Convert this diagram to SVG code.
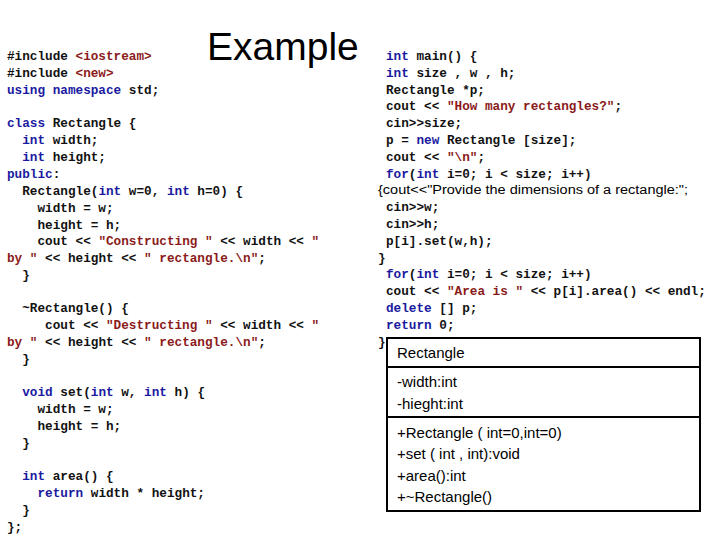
<svg xmlns="http://www.w3.org/2000/svg" width="720" height="540" viewBox="0 0 720 540">
<style>
.c{font-family:"Liberation Mono","DejaVu Sans Mono",monospace;font-size:12.7px;font-weight:bold;fill:#111;white-space:pre}
.k{fill:#1a1aa0}
.s{fill:#8b1a1a}
.u{font-family:"Liberation Sans",Arial,sans-serif;font-size:15px;fill:#000}
.b{fill:#fff;stroke:#000;stroke-width:2}
</style>
<rect width="720" height="540" fill="#fff"/>
<g id="title"><text x="207" y="60" font-family="'Liberation Sans',Arial,sans-serif" font-size="39" fill="#000">Example</text></g>
<g id="code-left">
<text class="c" x="7" y="60">#include <tspan class="s">&lt;iostream&gt;</tspan></text>
<text class="c" x="7" y="77">#include <tspan class="s">&lt;new&gt;</tspan></text>
<text class="c" x="7" y="94"><tspan class="k">using namespace</tspan> std;</text>
<text class="c" x="7" y="127"><tspan class="k">class</tspan> Rectangle {</text>
<text class="c" x="7" y="144">  <tspan class="k">int</tspan> width;</text>
<text class="c" x="7" y="161">  <tspan class="k">int</tspan> height;</text>
<text class="c" x="7" y="178"><tspan class="k">public</tspan>:</text>
<text class="c" x="7" y="195">  Rectangle(<tspan class="k">int</tspan> w=0, <tspan class="k">int</tspan> h=0) {</text>
<text class="c" x="7" y="212">    width = w;</text>
<text class="c" x="7" y="229">    height = h;</text>
<text class="c" x="7" y="245">    cout &lt;&lt; <tspan class="s">"Constructing "</tspan> &lt;&lt; width &lt;&lt; <tspan class="s">"</tspan></text>
<text class="c" x="7" y="262"><tspan class="s">by "</tspan> &lt;&lt; height &lt;&lt; <tspan class="s">" rectangle.\n"</tspan>;</text>
<text class="c" x="7" y="279">  }</text>
<text class="c" x="7" y="312">  ~Rectangle() {</text>
<text class="c" x="7" y="329">     cout &lt;&lt; <tspan class="s">"Destructing "</tspan> &lt;&lt; width &lt;&lt; <tspan class="s">"</tspan></text>
<text class="c" x="7" y="346"><tspan class="s">by "</tspan> &lt;&lt; height &lt;&lt; <tspan class="s">" rectangle.\n"</tspan>;</text>
<text class="c" x="7" y="363">  }</text>
<text class="c" x="7" y="396">  <tspan class="k">void</tspan> set(<tspan class="k">int</tspan> w, <tspan class="k">int</tspan> h) {</text>
<text class="c" x="7" y="413">    width = w;</text>
<text class="c" x="7" y="430">    height = h;</text>
<text class="c" x="7" y="447">  }</text>
<text class="c" x="7" y="480">  <tspan class="k">int</tspan> area() {</text>
<text class="c" x="7" y="497">    <tspan class="k">return</tspan> width * height;</text>
<text class="c" x="7" y="514">  }</text>
<text class="c" x="7" y="531">};</text>
</g>
<g id="code-right">
<text class="c" x="386" y="60"><tspan class="k">int</tspan> main() {</text>
<text class="c" x="386" y="77"><tspan class="k">int</tspan> size , w , h;</text>
<text class="c" x="386" y="94">Rectangle *p;</text>
<text class="c" x="386" y="110">cout &lt;&lt; <tspan class="s">"How many rectangles?"</tspan>;</text>
<text class="c" x="386" y="127">cin&gt;&gt;size;</text>
<text class="c" x="386" y="144">p = <tspan class="k">new</tspan> Rectangle [size];</text>
<text class="c" x="386" y="161">cout &lt;&lt; <tspan class="s">"\n"</tspan>;</text>
<text class="c" x="386" y="178"><tspan class="k">for</tspan>(<tspan class="k">int</tspan> i=0; i &lt; size; i++)</text>
<text x="378" y="194" font-family="'Liberation Sans Narrow','Liberation Sans',sans-serif" font-size="12.5" fill="#000" textLength="310" lengthAdjust="spacingAndGlyphs">{cout&lt;&lt;"Provide the dimensions of a rectangle:";</text>
<text class="c" x="386" y="211">cin&gt;&gt;w;</text>
<text class="c" x="386" y="228">cin&gt;&gt;h;</text>
<text class="c" x="386" y="245">p[i].set(w,h);</text>
<text class="c" x="378" y="262">}</text>
<text class="c" x="386" y="278"><tspan class="k">for</tspan>(<tspan class="k">int</tspan> i=0; i &lt; size; i++)</text>
<text class="c" x="386" y="295">cout &lt;&lt; <tspan class="s">"Area is "</tspan> &lt;&lt; p[i].area() &lt;&lt; endl;</text>
<text class="c" x="386" y="312"><tspan class="k">delete</tspan> [] p;</text>
<text class="c" x="386" y="329"><tspan class="k">return</tspan> 0;</text>
<text class="c" x="378" y="346">}</text>
</g>
<g id="uml-rectangle">
<rect class="b" x="387" y="338" width="313" height="173"/>
<line x1="387" y1="367" x2="700" y2="367" stroke="#000" stroke-width="2"/>
<line x1="387" y1="417" x2="700" y2="417" stroke="#000" stroke-width="2"/>
<text class="u" x="397" y="358">Rectangle</text>
<text class="u" x="397" y="387">-width:int</text>
<text class="u" x="397" y="409">-hieght:int</text>
<text class="u" x="397" y="438">+Rectangle ( int=0,int=0)</text>
<text class="u" x="397" y="459">+set ( int , int):void</text>
<text class="u" x="397" y="481">+area():int</text>
<text class="u" x="397" y="502">+~Rectangle()</text>
</g>
</svg>
